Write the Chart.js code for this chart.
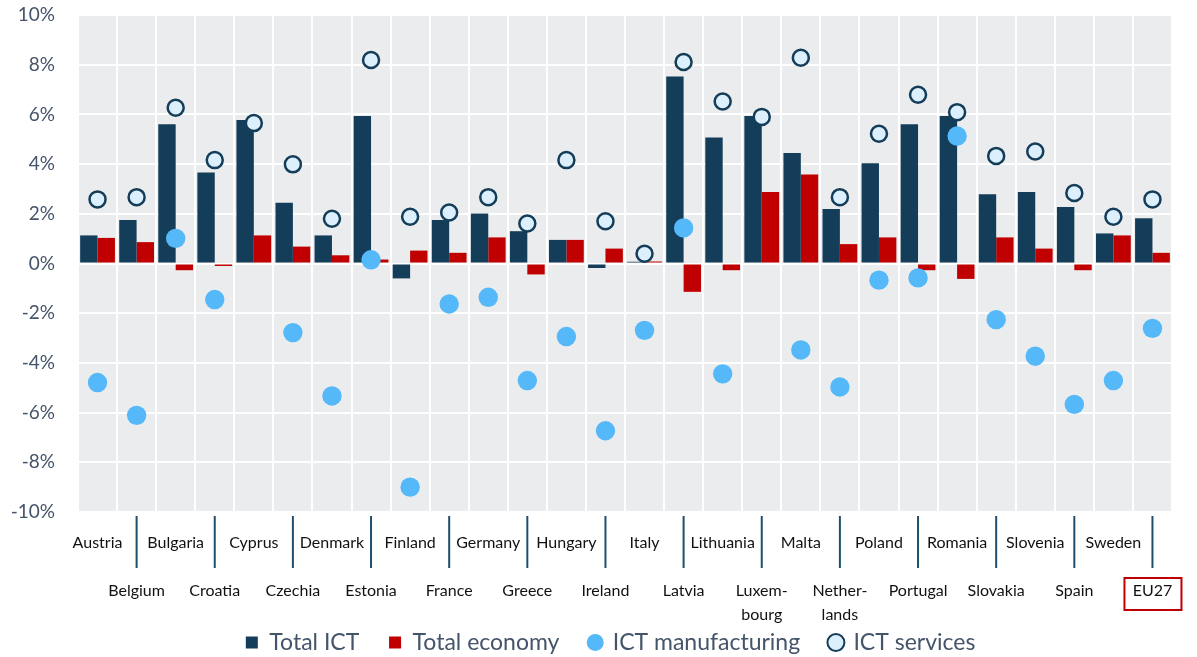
<!DOCTYPE html>
<html>
<head>
<meta charset="utf-8">
<script src="https://cdn.jsdelivr.net/npm/chart.js@4.4.1/dist/chart.umd.min.js"></script>
<style>
  html, body { margin: 0; padding: 0; background: #ffffff; }
  #wrap { width: 1197px; height: 657px; }
</style>
</head>
<body>
<div id="wrap"><canvas id="ictChart"></canvas></div>
<script>
const countries = ['Austria', 'Belgium', 'Bulgaria', 'Croatia', 'Cyprus', 'Czechia', 'Denmark',
    'Estonia', 'Finland', 'France', 'Germany', 'Greece', 'Hungary', 'Ireland', 'Italy', 'Latvia',
    'Lithuania', ['Luxem-', 'bourg'], 'Malta', ['Nether-', 'lands'], 'Poland', 'Portugal', 'Romania',
    'Slovakia', 'Slovenia', 'Spain', 'Sweden', 'EU27'];
const totalIct = [1.13, 1.75, 5.60, 3.66, 5.77, 2.44, 1.13, 5.94, -0.60, 1.75, 2.01, 1.30, 0.95, -0.18,
    0.07, 7.53, 5.07, 5.94, 4.45, 2.19, 4.03, 5.60, 5.94, 2.79, 2.88, 2.27, 1.21, 1.82];
const totalEconomy = [1.03, 0.86, -0.27, -0.10, 1.13, 0.68, 0.33, 0.16, 0.52, 0.43, 1.05, -0.44, 0.95, 0.60,
    0.08, -1.14, -0.27, 2.88, 3.58, 0.78, 1.05, -0.27, -0.62, 1.05, 0.60, -0.27, 1.13, 0.43];
const ictManufacturing = [-4.79, -6.11, 1.01, -1.45, null, -2.78, -5.33, 0.15, -9.00, -1.63, -1.36, -4.71, -2.94,
    -6.73, -2.69, 1.43, -4.44, null, -3.48, -4.97, -0.67, -0.58, 5.13, -2.26, -3.73, -5.67, -4.71, -2.61];
const ictServices = [2.58, 2.67, 6.27, 4.16, 5.65, 3.99, 1.80, 8.19, 1.88, 2.05, 2.67, 1.61, 4.16, 1.70,
    0.39, 8.11, 6.52, 5.90, 8.28, 2.67, 5.22, 6.79, 6.09, 4.33, 4.51, 2.84, 1.88, 2.58];
const yTicks = [-10, -8, -6, -4, -2, 0, 2, 4, 6, 8, 10];

// every second label goes on a lower row
const xLabels = countries.map((c, i) => {
    const lines = Array.isArray(c) ? c : [c];
    return i % 2 === 0 ? lines : ['', ''].concat(lines);
});

const plotBackground = {
    id: 'plotBackground',
    beforeDraw(chart) {
        const { ctx, chartArea: a } = chart;
        ctx.save();
        ctx.fillStyle = '#EBECEE';
        ctx.fillRect(a.left, a.top, a.right - a.left, a.bottom - a.top);
        ctx.restore();
    }
};

const labelTicks = {
    id: 'labelTicks',
    afterDraw(chart) {
        const { ctx, chartArea: a, scales: { x } } = chart;
        ctx.save();
        ctx.strokeStyle = '#1F4E6E';
        ctx.lineWidth = 2;
        countries.forEach((c, i) => {
            if (i % 2 === 0) return;
            const px = x.getPixelForValue(i);
            ctx.beginPath();
            ctx.moveTo(px, a.bottom + 4);
            ctx.lineTo(px, a.bottom + 56);
            ctx.stroke();
        });
        // red frame round the EU27 label
        const ex = x.getPixelForValue(countries.length - 1);
        ctx.strokeStyle = '#C00000';
        ctx.strokeRect(ex - 28, a.bottom + 66, 57, 32);
        ctx.restore();
    }
};

document.addEventListener("DOMContentLoaded", function () {
    const ctx = document.getElementById('ictChart').getContext('2d');
    new Chart(ctx, {
        type: 'bar',
        data: {
            labels: xLabels,
            datasets: [{
                label: 'Total ICT',
                data: totalIct,
                backgroundColor: '#143D59',
                order: 2
            }, {
                label: 'Total economy',
                data: totalEconomy,
                backgroundColor: '#C00000',
                order: 2
            }, {
                type: 'line',
                label: 'ICT manufacturing',
                data: ictManufacturing,
                showLine: false,
                pointRadius: 9.7,
                pointHoverRadius: 9.7,
                pointBackgroundColor: '#55B8F8',
                pointBorderColor: '#55B8F8',
                pointBorderWidth: 0,
                backgroundColor: '#55B8F8',
                borderColor: '#55B8F8',
                order: 0
            }, {
                type: 'line',
                label: 'ICT services',
                data: ictServices,
                showLine: false,
                pointRadius: 8,
                pointHoverRadius: 8,
                pointBackgroundColor: '#DCEFFC',
                pointBorderColor: '#143D59',
                pointBorderWidth: 2.5,
                backgroundColor: '#DCEFFC',
                borderColor: '#143D59',
                order: 1
            }]
        },
        options: {
            responsive: true,
            maintainAspectRatio: false,
            animation: false,
            layout: {
                padding: { top: 15, right: 25, bottom: -7, left: 0 }
            },
            datasets: {
                bar: { categoryPercentage: 0.89, barPercentage: 1.0 }
            },
            plugins: {
                legend: {
                    position: 'bottom',
                    fullSize: false,
                    labels: {
                        usePointStyle: true,
                        boxWidth: 12,
                        boxHeight: 12,
                        padding: 1,
                        color: '#44546A',
                        font: { family: 'Lato', size: 23 },
                        generateLabels: function (chart) {
                            const items = Chart.defaults.plugins.legend.labels.generateLabels(chart);
                            items.forEach(item => {
                                item.pointStyle = item.datasetIndex < 2 ? 'rect' : 'circle';
                                if (item.datasetIndex === 3) {
                                    item.lineWidth = 2;
                                }
                                item.text += '\u2003\u2002';
                            });
                            return items.sort((a, b) => a.datasetIndex - b.datasetIndex);
                        }
                    }
                },
                tooltip: { enabled: false }
            },
            scales: {
                x: {
                    afterFit: function (scale) { scale.height = 118; },
                    grid: { color: '#ffffff', lineWidth: 2, drawTicks: false, offset: true },
                    border: { display: false },
                    ticks: {
                        autoSkip: false,
                        maxRotation: 0,
                        padding: 19,
                        color: '#111111',
                        font: { family: 'Lato', size: 16, lineHeight: 1.5 }
                    }
                },
                y: {
                    min: -10,
                    max: 10,
                    afterBuildTicks: function (scale) {
                        scale.ticks = yTicks.map(v => ({ value: v }));
                    },
                    afterFit: function (scale) { scale.width = 78; },
                    grid: {
                        color: '#ffffff',
                        lineWidth: 2,
                        drawTicks: true,
                        tickLength: 23,
                        tickColor: 'rgba(0,0,0,0)'
                    },
                    border: { display: false },
                    ticks: {
                        padding: 0,
                        color: '#44546A',
                        font: { family: 'Lato', size: 19 },
                        callback: function (value) { return value + '%'; }
                    }
                }
            }
        },
        plugins: [plotBackground, labelTicks]
    });
});
</script>
</body>
</html>
